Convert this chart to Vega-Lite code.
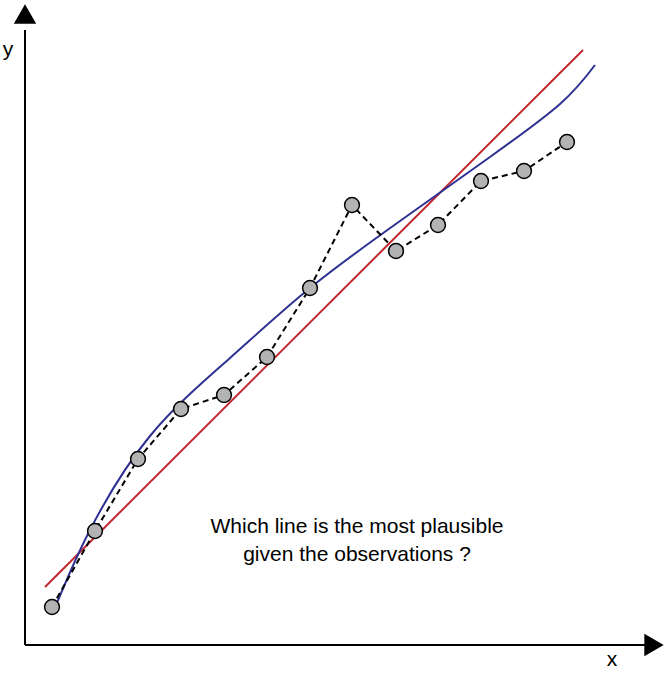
{
  "$schema": "https://vega.github.io/schema/vega-lite/v6.json",
  "width": 669,
  "height": 675,
  "autosize": {"type": "fit", "contains": "padding"},
  "padding": 0,
  "config": {"view": {"stroke": null}, "font": "Liberation Sans"},
  "encoding": {
    "x": {"field": "x", "type": "quantitative", "scale": {"domain": [0, 669], "nice": false, "zero": false}, "axis": null},
    "y": {"field": "y", "type": "quantitative", "scale": {"domain": [0, 675], "nice": false, "zero": false}, "axis": null}
  },
  "layer": [
    {
      "data": {"values": [
        {"x": 25, "y": 30, "g": "v"}, {"x": 25, "y": 645, "g": "v"},
        {"x": 25, "y": 645, "g": "h"}, {"x": 655, "y": 645, "g": "h"}
      ]},
      "transform": [{"calculate": "675 - datum.y", "as": "y"}],
      "mark": {"type": "line", "color": "black", "strokeWidth": 2},
      "encoding": {"detail": {"field": "g"}}
    },
    {
      "data": {"values": [
        {"x": 25, "y": 14, "s": "triangle-up"},
        {"x": 654, "y": 645, "s": "triangle-right"}
      ]},
      "transform": [{"calculate": "675 - datum.y", "as": "y"}],
      "mark": {"type": "point", "filled": true, "color": "black", "size": 500, "opacity": 1},
      "encoding": {"shape": {"field": "s", "type": "nominal", "scale": null}}
    },
    {
      "data": {"values": [{"x": 45, "y": 587}, {"x": 583, "y": 50}]},
      "transform": [{"calculate": "675 - datum.y", "as": "y"}],
      "mark": {"type": "line", "color": "#c1272d", "strokeWidth": 2}
    },
    {
      "data": {"values": [
        {"x": 57, "y": 603}, {"x": 90, "y": 530}, {"x": 150, "y": 436},
        {"x": 230, "y": 358}, {"x": 310, "y": 288}, {"x": 400, "y": 221},
        {"x": 490, "y": 157}, {"x": 560, "y": 104}, {"x": 595, "y": 65}
      ]},
      "transform": [{"calculate": "675 - datum.y", "as": "y"}],
      "mark": {"type": "line", "color": "#2e3192", "strokeWidth": 2, "interpolate": "natural"}
    },
    {
      "data": {"values": [
        {"x": 52, "y": 607}, {"x": 95, "y": 531}, {"x": 138, "y": 459}, {"x": 181, "y": 409},
        {"x": 224, "y": 395}, {"x": 267, "y": 357}, {"x": 310, "y": 288}, {"x": 352, "y": 205},
        {"x": 396, "y": 251}, {"x": 438, "y": 225}, {"x": 481, "y": 181}, {"x": 524, "y": 171},
        {"x": 567, "y": 142}
      ]},
      "transform": [{"calculate": "675 - datum.y", "as": "y"}],
      "layer": [
        {"mark": {"type": "line", "color": "black", "strokeWidth": 2, "strokeDash": [6, 4]}},
        {"mark": {"type": "point", "filled": true, "fill": "#b3b3b3", "stroke": "black", "strokeWidth": 1.5, "size": 220, "opacity": 1}}
      ]
    },
    {
      "data": {"values": [
        {"x": 8, "y": 50, "t": "y"}, {"x": 612, "y": 660, "t": "x"},
        {"x": 357, "y": 527, "t": "Which line is the most plausible"},
        {"x": 357, "y": 555, "t": "given the observations ?"}
      ]},
      "transform": [{"calculate": "675 - datum.y", "as": "y"}],
      "mark": {"type": "text", "fontSize": 21, "color": "black", "align": "center", "baseline": "middle"},
      "encoding": {"text": {"field": "t"}}
    }
  ]
}
